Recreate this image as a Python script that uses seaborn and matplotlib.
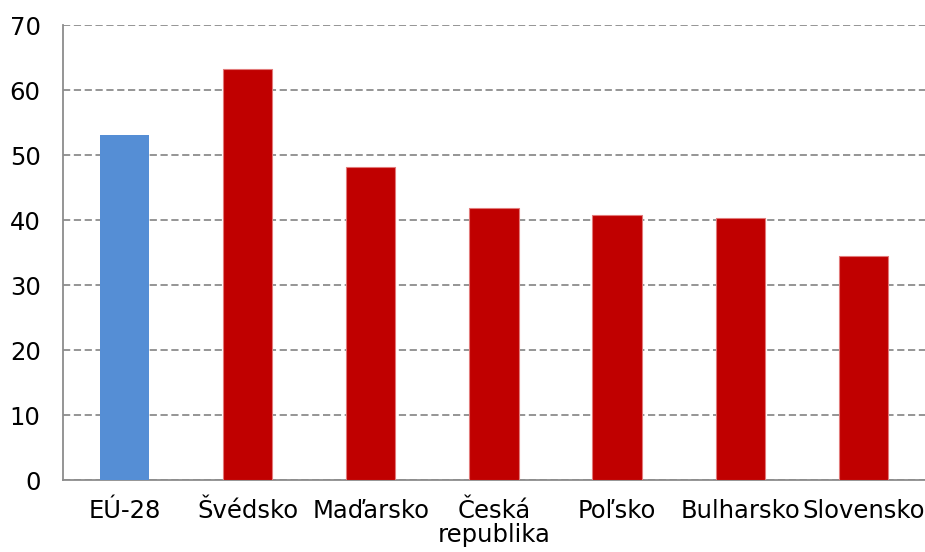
import numpy as np
import pandas as pd
import seaborn as sns
from matplotlib import pyplot as plt
from matplotlib.ticker import FixedLocator

# Data
categories = ['EÚ-28', 'Švédsko', 'Maďarsko', 'Česká\nrepublika', 'Poľsko', 'Bulharsko', 'Slovensko']
values = [53.1, 63.3, 48.1, 41.9, 40.8, 40.3, 34.4]
bar_colors = ['#558ED5', '#C00000', '#C00000', '#C00000', '#C00000', '#C00000', '#C00000']
y_ticks = [0, 10, 20, 30, 40, 50, 60, 70]

df = pd.DataFrame({'country': categories, 'value': values})

sns.set_style('white')
plt.rcParams['font.family'] = ['DejaVu Sans']

fig = plt.figure(figsize=(9.25, 5.52), dpi=100)
ax = fig.add_axes([0.068, 0.1304, 0.932, 0.8243])

sns.barplot(data=df, x='country', y='value', hue='country', palette=bar_colors,
            width=0.4, legend=False, ax=ax, zorder=3, saturation=1)

# Light edge on the red bars only
for patch, col in zip(ax.patches, bar_colors):
    if col == '#C00000':
        patch.set_edgecolor('#E27A7A')
        patch.set_linewidth(0.8)
    else:
        patch.set_linewidth(0)

ax.set_xlim(-0.5, len(categories) - 0.5)
ax.set_ylim(0, 70)
ax.set_yticks(y_ticks)
ax.set_xlabel('')
ax.set_ylabel('')

# Grid
ax.grid(axis='y', color='#8C8C8C', linestyle=(0, (4, 2)), linewidth=1.3, zorder=0)
ax.grid(axis='x', visible=False)

# Spines
for side in ['top', 'right']:
    ax.spines[side].set_visible(False)
for side in ['left', 'bottom']:
    ax.spines[side].set_color('#8C8C8C')
    ax.spines[side].set_linewidth(1.3)

# Tick marks at category boundaries on x
ax.xaxis.set_minor_locator(FixedLocator(np.arange(-0.5, len(categories), 1.0)))
ax.tick_params(axis='x', which='major', length=0, pad=14, labelsize=17.5, labelcolor='black')
ax.tick_params(axis='x', which='minor', length=7, width=1.3, color='#8C8C8C', direction='out')
ax.tick_params(axis='y', which='major', length=7, width=1.3, color='#8C8C8C',
               labelsize=17.5, labelcolor='black', pad=9)
for lbl in ax.get_xticklabels():
    lbl.set_linespacing(1.0)

fig.savefig('out.png', dpi=100)
plt.close()
